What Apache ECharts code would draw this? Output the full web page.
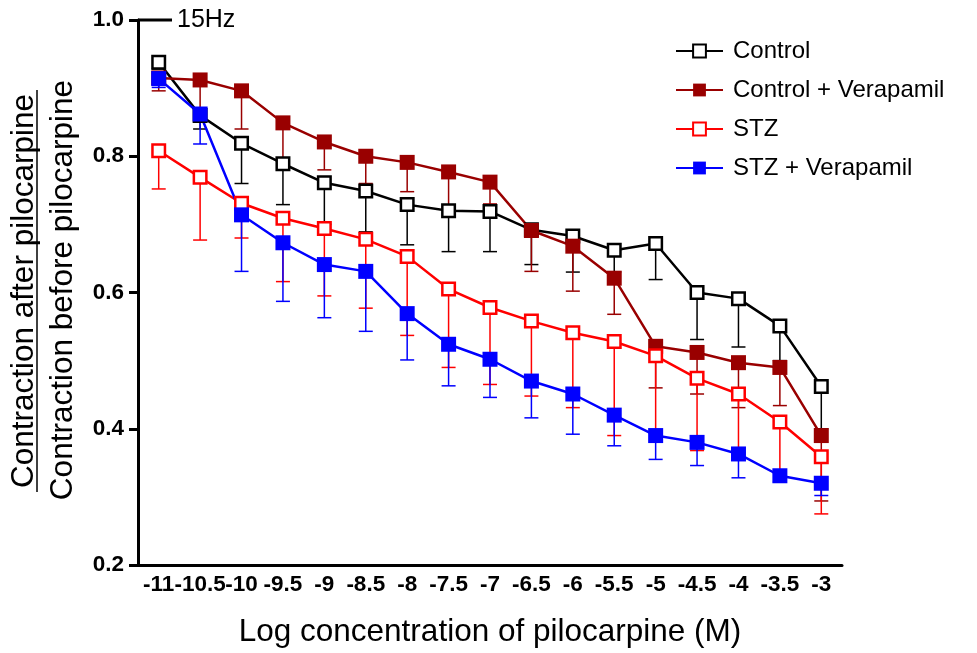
<!DOCTYPE html>
<html>
<head>
<meta charset="utf-8">
<script src="https://cdn.jsdelivr.net/npm/echarts@6/dist/echarts.min.js"></script>
<style>
  html, body { margin: 0; padding: 0; background: #fff; }
  #chart { width: 977px; height: 653px; }
</style>
</head>
<body>
<div id="chart"></div>
<script>
// Log concentration of pilocarpine (M)
const doses = ['-11', '-10.5', '-10', '-9.5', '-9', '-8.5', '-8', '-7.5', '-7',
               '-6.5', '-6', '-5.5', '-5', '-4.5', '-4', '-3.5', '-3'];

// Mean contraction ratio (after / before pilocarpine), 15 Hz stimulation
const control      = [0.938, 0.860, 0.819, 0.789, 0.761, 0.749, 0.729, 0.720, 0.719,
                      0.692, 0.683, 0.662, 0.672, 0.600, 0.591, 0.551, 0.462];
const controlVera  = [0.915, 0.912, 0.896, 0.849, 0.821, 0.800, 0.791, 0.777, 0.762,
                      0.691, 0.668, 0.621, 0.521, 0.512, 0.497, 0.490, 0.390];
const stz          = [0.808, 0.769, 0.731, 0.709, 0.694, 0.678, 0.653, 0.605, 0.578,
                      0.558, 0.541, 0.528, 0.507, 0.474, 0.451, 0.410, 0.359];
const stzVera      = [0.914, 0.862, 0.714, 0.673, 0.641, 0.631, 0.569, 0.524, 0.502,
                      0.470, 0.451, 0.420, 0.390, 0.380, 0.363, 0.331, 0.320];

// Lower end of each error bar (mean - SEM)
const controlLow     = [0.928, 0.840, 0.760, 0.729, 0.700, 0.689, 0.670, 0.660, 0.660,
                        0.641, 0.630, 0.630, 0.619, 0.531, 0.520, 0.500, 0.400];
const controlVeraLow = [0.896, 0.870, 0.840, 0.797, 0.780, 0.760, 0.748, 0.725, 0.730,
                        0.631, 0.602, 0.568, 0.460, 0.451, 0.431, 0.434, 0.294];
const stzLow         = [0.752, 0.677, 0.680, 0.616, 0.595, 0.577, 0.537, 0.490, 0.465,
                        0.448, 0.431, 0.390, 0.395, 0.368, 0.365, 0.335, 0.275];
const stzVeraLow     = [0.901, 0.818, 0.631, 0.587, 0.563, 0.543, 0.501, 0.463, 0.446,
                        0.416, 0.392, 0.375, 0.355, 0.346, 0.328, 0.322, 0.302];

const yTicks = [0.2, 0.4, 0.6, 0.8, 1.0];

const FONT = 'Liberation Sans, Arial, sans-serif';

const groups = [
  { name: 'Control',             mean: control,     low: controlLow,     color: '#000000', open: true  },
  { name: 'Control + Verapamil', mean: controlVera, low: controlVeraLow, color: '#990000', open: false },
  { name: 'STZ',                 mean: stz,         low: stzLow,         color: '#ff0000', open: true  },
  { name: 'STZ + Verapamil',     mean: stzVera,     low: stzVeraLow,     color: '#0000ff', open: false }
];

// Downward-only error bars with a horizontal cap
function errorSeries(g) {
  return {
    type: 'custom',
    name: g.name + ' SEM',
    z: 1,
    data: g.mean.map((m, i) => [i, m, g.low[i]]),
    encode: { x: 0, y: [1, 2] },
    renderItem(params, api) {
      const top = api.coord([api.value(0), api.value(1)]);
      const bot = api.coord([api.value(0), api.value(2)]);
      const hw = 7;
      const style = { stroke: g.color, lineWidth: 1.5 };
      return {
        type: 'group',
        children: [
          { type: 'line', shape: { x1: top[0], y1: top[1], x2: bot[0], y2: bot[1] }, style },
          { type: 'line', shape: { x1: bot[0] - hw, y1: bot[1], x2: bot[0] + hw, y2: bot[1] }, style }
        ]
      };
    },
    silent: true
  };
}

function lineSeries(g) {
  return {
    type: 'line',
    name: g.name,
    z: 2,
    data: g.mean,
    symbol: 'rect',
    symbolSize: g.open ? 12.5 : 15,
    showAllSymbol: true,
    lineStyle: { color: g.color, width: 2.5 },
    itemStyle: g.open
      ? { color: '#ffffff', borderColor: g.color, borderWidth: 2.5 }
      : { color: g.color, borderColor: g.color, borderWidth: 0 },
    emphasis: { disabled: true },
    animation: false
  };
}

const chart = echarts.init(document.getElementById('chart'), null, { renderer: 'canvas' });

chart.setOption({
  animation: false,
  backgroundColor: '#ffffff',
  grid: { left: 138, right: 135, top: 20, bottom: 87, containLabel: false },
  xAxis: {
    type: 'category',
    data: doses,
    boundaryGap: true,
    name: 'Log concentration of pilocarpine (M)',
    nameLocation: 'middle',
    nameGap: 51,
    nameTextStyle: { fontFamily: FONT, fontSize: 31.5, color: '#000' },
    axisLine: { lineStyle: { color: '#000', width: 3 } },
    axisTick: { alignWithLabel: true, length: 8, lineStyle: { color: '#000', width: 3 } },
    axisLabel: { interval: 0, margin: 8, fontFamily: FONT, fontSize: 22.5, fontWeight: 'bold', color: '#000' },
    splitLine: { show: false }
  },
  yAxis: {
    type: 'value',
    min: yTicks[0],
    max: yTicks[yTicks.length - 1],
    interval: 0.2,
    axisLine: { show: true, lineStyle: { color: '#000', width: 3 } },
    axisTick: { show: true, length: 9, lineStyle: { color: '#000', width: 3 } },
    axisLabel: {
      margin: 14, fontFamily: FONT, fontSize: 22.5, fontWeight: 'bold', color: '#000',
      formatter: v => v.toFixed(1)
    },
    splitLine: { show: false }
  },
  legend: {
    data: groups.map(g => g.name),
    orient: 'vertical',
    left: 675,
    top: 39,
    padding: 0,
    itemWidth: 47,
    itemHeight: 16,
    itemGap: 15,
    textStyle: { fontFamily: FONT, fontSize: 24, color: '#000', padding: [0, 0, 0, 5] },
    selectedMode: false
  },
  graphic: [
    // frequency label drawn off the top of the y axis
    { type: 'line', shape: { x1: 138, y1: 20, x2: 172, y2: 20 }, style: { stroke: '#000', lineWidth: 3 } },
    { type: 'text', x: 177, y: 20, style: { text: '15Hz', fontFamily: FONT, fontSize: 25, fill: '#000', textVerticalAlign: 'middle' } },
    // two-line y-axis title: ratio of contraction after / before pilocarpine
    { type: 'text', x: 24, y: 291, rotation: Math.PI / 2,
      style: { text: 'Contraction after pilocarpine', fontFamily: FONT, fontSize: 31.5, fill: '#000', textAlign: 'center', textVerticalAlign: 'middle' } },
    { type: 'line', shape: { x1: 37, y1: 90, x2: 37, y2: 492 }, style: { stroke: '#000', lineWidth: 1.5 } },
    { type: 'text', x: 63, y: 290, rotation: Math.PI / 2,
      style: { text: 'Contraction before pilocarpine', fontFamily: FONT, fontSize: 31.5, fill: '#000', textAlign: 'center', textVerticalAlign: 'middle' } }
  ],
  series: [
    ...groups.map(errorSeries),
    ...groups.map(lineSeries)
  ]
});
</script>
</body>
</html>
